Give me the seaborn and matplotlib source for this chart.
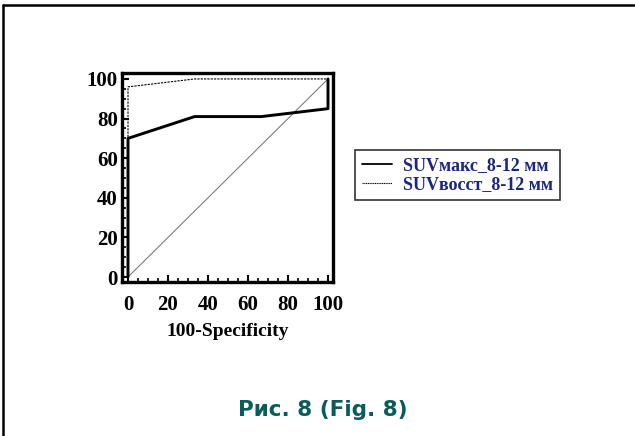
import matplotlib
matplotlib.use("Agg")
import matplotlib.pyplot as plt
import seaborn as sns
import pandas as pd
from matplotlib.lines import Line2D

sns.set_theme(style="white")
plt.rcParams['font.family'] = ['Liberation Serif', 'DejaVu Serif']
plt.rcParams['text.color'] = 'black'
plt.rcParams['xtick.color'] = 'black'
plt.rcParams['ytick.color'] = 'black'
plt.rcParams['axes.labelcolor'] = 'black'

# Data (ROC curves)
fpr_max = [0, 0, 33.3, 66.7, 100, 100]
tpr_max = [0, 70, 81, 81, 85, 100]
fpr_vosst = [0, 0, 33.3, 100, 100]
tpr_vosst = [0, 96, 100, 100, 100]
diag_x = [0, 100]
diag_y = [0, 100]
labels = ["SUVмакс_8-12 мм", "SUVвосст_8-12 мм"]
x_ticks = [0, 20, 40, 60, 80, 100]
y_ticks = [0, 20, 40, 60, 80, 100]
xlabel = "100-Specificity"
caption = "Рис. 8 (Fig. 8)"

df_max = pd.DataFrame({"x": fpr_max, "y": tpr_max})
df_vosst = pd.DataFrame({"x": fpr_vosst, "y": tpr_vosst})
df_diag = pd.DataFrame({"x": diag_x, "y": diag_y})

fig = plt.figure(figsize=(6.35, 4.36), dpi=100)
fig.patch.set_facecolor("white")
ax = fig.add_axes([122/635, 1-282/436, 211/635, 209/436])
ax.set_facecolor("white")

sns.lineplot(data=df_diag, x="x", y="y", ax=ax, color="#6e6e6e", linewidth=0.7,
             sort=False, estimator=None)
sns.lineplot(data=df_vosst, x="x", y="y", ax=ax, color="black", linewidth=0.8,
             linestyle=(0, (2, 1)), sort=False, estimator=None)
sns.lineplot(data=df_max, x="x", y="y", ax=ax, color="black", linewidth=2.1,
             sort=False, estimator=None)

ax.set_xlim(-3, 102.5)
ax.set_ylim(-2.5, 103)
ax.set_xticks(x_ticks)
ax.set_yticks(y_ticks)
ax.set_xticks(range(0, 101, 5), minor=True)
ax.set_yticks(range(0, 101, 5), minor=True)
ax.tick_params(axis="both", which="major", direction="in", length=5, width=1.5,
               labelsize=15, bottom=True, left=True, top=False, right=False, pad=3,
               colors="black")
ax.tick_params(axis="x", which="major", pad=9)
ax.tick_params(axis="both", which="minor", direction="in", length=3, width=1.2,
               bottom=True, left=True, top=False, right=False, colors="black")
for lab in ax.get_xticklabels() + ax.get_yticklabels():
    lab.set_fontweight("bold")
ax.set_xlabel(xlabel, fontsize=14, fontweight="bold", labelpad=6, color="black")
ax.set_ylabel("")
for s in ax.spines.values():
    s.set_linewidth(2.4)
    s.set_color("black")

handles = [Line2D([0], [0], color="black", linewidth=1.3),
           Line2D([0], [0], color="black", linewidth=0.8, linestyle=(0, (1, 0.6)))]
leg = fig.legend(handles, labels, loc="upper left", bbox_to_anchor=(355/635, 1-150/436),
                 borderaxespad=0, frameon=True, fancybox=False, edgecolor="black",
                 handlelength=1.65, handletextpad=0.6, borderpad=0.4, labelspacing=0.1,
                 prop={"family": ["Liberation Serif"], "weight": "bold", "size": 13})
leg.get_frame().set_linewidth(1.2)
for t in leg.get_texts():
    t.set_color("#1c2580")

fig.text(323/635, 1-410/436, caption, ha="center", va="center", fontsize=15.5,
         fontweight="bold", color="#0a5c5c", family=["DejaVu Sans"])

# partial figure frame (top and left)
fig.add_artist(Line2D([3/635, 3/635], [0, 1-5/436], transform=fig.transFigure,
                      color="black", linewidth=1.8))
fig.add_artist(Line2D([3/635, 1], [1-5/436, 1-5/436], transform=fig.transFigure,
                      color="black", linewidth=1.8))

fig.savefig("out.png", dpi=100, facecolor="white")
